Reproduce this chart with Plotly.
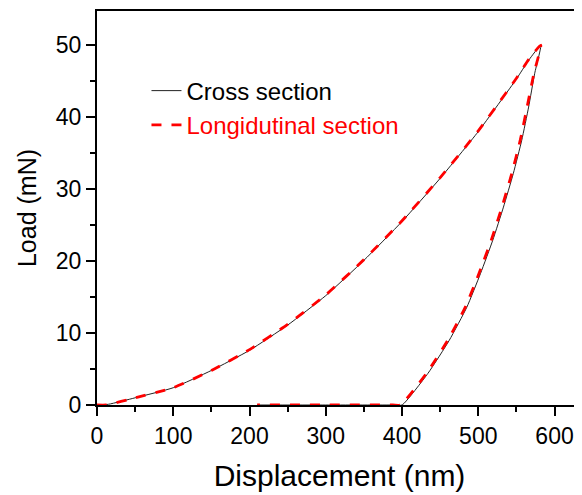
import plotly.graph_objects as go

# Cross section (black, solid)
cross_load_disp = [0, 15, 50, 100, 150, 200, 250, 300, 350, 400, 450, 500, 550, 566, 582]
cross_load_force = [0, 0.1, 1.0, 2.4, 4.8, 7.6, 11.1, 15.2, 20.1, 25.5, 31.5, 38.0, 45.3, 47.9, 50.0]
cross_unload_disp = [574, 566, 557, 546, 533, 519, 503, 485, 462, 434, 400, 390, 300, 210]
cross_unload_force = [46.1, 41.4, 36.8, 32.2, 27.5, 22.9, 18.3, 13.6, 9.0, 4.4, 0, 0, 0, 0]

# Longitudinal section (red, dashed)
long_load_disp = [0, 12, 50, 100, 150, 200, 250, 300, 350, 400, 450, 500, 550, 566, 582]
long_load_force = [0, 0, 1.0, 2.4, 4.8, 7.7, 11.2, 15.3, 20.2, 25.6, 31.6, 38.1, 45.4, 48.0, 50.0]
long_unload_disp = [573, 564, 555, 544, 531, 517, 501, 483, 460, 432, 398, 388, 300, 210]
long_unload_force = [46.1, 41.4, 36.8, 32.2, 27.5, 22.9, 18.3, 13.6, 9.0, 4.4, 0, 0, 0, 0]

x_ticks = [0, 100, 200, 300, 400, 500, 600]
y_ticks = [0, 10, 20, 30, 40, 50]

FONT = "Arial, Liberation Sans, sans-serif"

fig = go.Figure()
fig.add_trace(go.Scatter(
    x=cross_load_disp + cross_unload_disp,
    y=cross_load_force + cross_unload_force,
    mode="lines", name="Cross section",
    line=dict(color="#222222", width=1, shape="spline", smoothing=0.5),
))
fig.add_trace(go.Scatter(
    x=long_load_disp + long_unload_disp,
    y=long_load_force + long_unload_force,
    mode="lines", name="<span style='color:#ff0000'>Longidutinal section</span>",
    line=dict(color="#ff0000", width=2.8, dash="10px,10px", shape="spline", smoothing=0.5),
))

axis_common = dict(
    showgrid=False, zeroline=False, automargin=False, layer="below traces",
    showline=True, linecolor="black", linewidth=2,
    ticks="outside", ticklen=9, tickwidth=2, tickcolor="black",
    tickfont=dict(family=FONT, size=23, color="black"),
)

fig.update_xaxes(
    **axis_common,
    range=[0, 636], tickvals=x_ticks, mirror=True,
    minor=dict(dtick=50, ticks="outside", ticklen=5, tickwidth=2, tickcolor="black", showgrid=False),
    title=dict(text="Displacement (nm)", font=dict(family=FONT, size=30, color="black"), standoff=17),
)
fig.update_yaxes(
    **axis_common,
    range=[0, 54.75], tickvals=y_ticks,
    minor=dict(dtick=5, ticks="outside", ticklen=5, tickwidth=2, tickcolor="black", showgrid=False),
    title=dict(text="Load (mN)", font=dict(family=FONT, size=25, color="black"), standoff=12),
)

# The page body adds an 8px offset, so the figure is sized to fit the window.
fig.update_layout(
    width=574, height=487,
    margin=dict(l=89, r=0, t=3, b=90),
    plot_bgcolor="white", paper_bgcolor="white",
    showlegend=True,
    legend=dict(
        x=0.102, y=0.854, xanchor="left", yanchor="top",
        bgcolor="rgba(0,0,0,0)",
        font=dict(family=FONT, size=24, color="black"),
        tracegroupgap=0,
    ),
)

fig.write_html("out.html")
